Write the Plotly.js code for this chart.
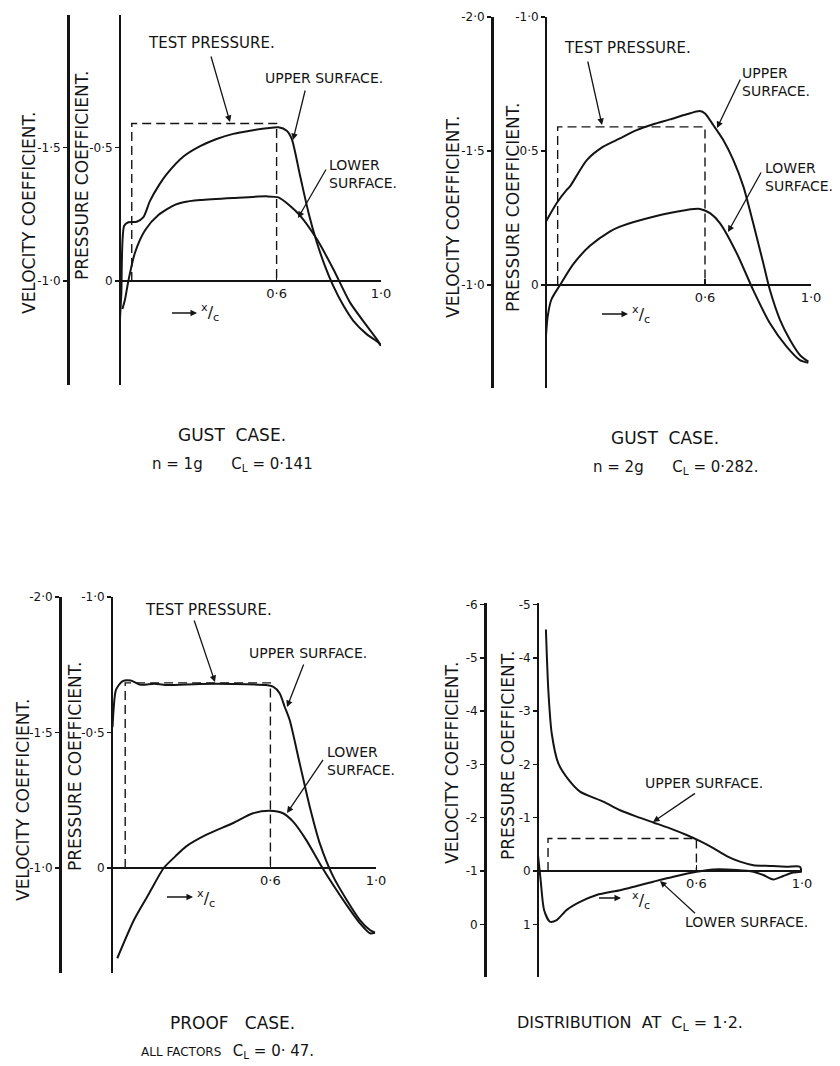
<!DOCTYPE html>
<html><head><meta charset="utf-8">
<script src="https://cdn.plot.ly/plotly-3.0.1.min.js"></script>
<style>html,body{margin:0;padding:0;background:#fff}</style>
</head><body><div id="chart" style="width:840px;height:1066px"></div>
<script>
// ---------------- DATA ----------------
// Panel 1: gust case n=1g, CL=0.141
const gust1UpperX  = [0.0, 0.005, 0.016, 0.032, 0.064, 0.089, 0.115, 0.15, 0.179, 0.243, 0.307, 0.37, 0.434, 0.498, 0.562, 0.607, 0.639, 0.658, 0.69, 0.722, 0.754, 0.785, 0.817, 0.856, 0.894, 0.945, 0.99, 1.0];
const gust1UpperCp = [0.14, 0.05, -0.207, -0.22, -0.222, -0.238, -0.3, -0.36, -0.4, -0.466, -0.505, -0.532, -0.551, -0.563, -0.572, -0.576, -0.563, -0.532, -0.394, -0.257, -0.145, -0.057, 0.018, 0.092, 0.149, 0.199, 0.23, 0.242];
const gust1LowerX  = [0.009, 0.019, 0.032, 0.057, 0.096, 0.147, 0.21, 0.243, 0.307, 0.434, 0.562, 0.607, 0.651, 0.69, 0.754, 0.817, 0.881, 0.945, 0.983, 1.0];
const gust1LowerCp = [0.105, 0.07, 0.0, -0.105, -0.19, -0.247, -0.285, -0.295, -0.303, -0.311, -0.317, -0.313, -0.282, -0.245, -0.157, -0.045, 0.08, 0.167, 0.217, 0.242];
const gust1TestX   = [0.045, 0.045, 0.6, 0.6];
const gust1TestCp  = [0, -0.59, -0.59, 0];

// Panel 2: gust case n=2g, CL=0.282
const gust2UpperX  = [0.0, 0.04, 0.078, 0.09, 0.154, 0.216, 0.279, 0.342, 0.405, 0.468, 0.531, 0.581, 0.6, 0.631, 0.669, 0.707, 0.745, 0.782, 0.82, 0.845, 0.883, 0.921, 0.958, 0.99];
const gust2UpperCp = [-0.237, -0.305, -0.355, -0.367, -0.466, -0.516, -0.547, -0.578, -0.6, -0.618, -0.637, -0.649, -0.64, -0.597, -0.541, -0.466, -0.367, -0.23, -0.081, 0.019, 0.13, 0.205, 0.261, 0.286];
const gust2LowerX  = [0.0, 0.006, 0.02, 0.053, 0.103, 0.166, 0.242, 0.279, 0.405, 0.531, 0.581, 0.619, 0.657, 0.72, 0.782, 0.845, 0.908, 0.958, 0.99];
const gust2LowerCp = [0.19, 0.12, 0.055, 0.0, -0.078, -0.146, -0.2, -0.218, -0.255, -0.28, -0.284, -0.268, -0.23, -0.118, 0.019, 0.143, 0.23, 0.28, 0.29];
const gust2TestX   = [0.044, 0.044, 0.6, 0.6];
const gust2TestCp  = [0, -0.59, -0.59, 0];

// Panel 3: proof case, all factors, CL=0.47
const proofUpperX  = [0.002, 0.006, 0.015, 0.039, 0.071, 0.109, 0.16, 0.204, 0.331, 0.457, 0.584, 0.61, 0.635, 0.654, 0.673, 0.711, 0.749, 0.787, 0.838, 0.889, 0.939, 0.977, 0.996];
const proofUpperCp = [-0.52, -0.584, -0.657, -0.689, -0.692, -0.676, -0.68, -0.675, -0.679, -0.679, -0.675, -0.669, -0.645, -0.595, -0.546, -0.386, -0.226, -0.091, 0.032, 0.118, 0.192, 0.229, 0.239];
const proofLowerX  = [0.02, 0.084, 0.141, 0.196, 0.24, 0.28, 0.356, 0.457, 0.534, 0.597, 0.648, 0.686, 0.736, 0.787, 0.838, 0.889, 0.939, 0.977, 0.996];
const proofLowerCp = [0.333, 0.19, 0.093, 0.0, -0.043, -0.079, -0.122, -0.165, -0.202, -0.211, -0.202, -0.171, -0.103, -0.017, 0.063, 0.137, 0.204, 0.241, 0.239];
const proofTestX   = [0.05, 0.05, 0.6, 0.6];
const proofTestCp  = [0, -0.683, -0.683, 0];

// Panel 4: distribution at CL=1.2
const highUpperX  = [0.03, 0.039, 0.052, 0.077, 0.121, 0.159, 0.247, 0.311, 0.374, 0.437, 0.5, 0.563, 0.614, 0.664, 0.715, 0.765, 0.816, 0.879, 0.942, 0.992, 0.998];
const highUpperCp = [-4.53, -3.4, -2.58, -2.02, -1.68, -1.49, -1.3, -1.14, -1.02, -0.91, -0.8, -0.675, -0.56, -0.43, -0.28, -0.175, -0.11, -0.094, -0.08, -0.08, 0.01];
const highLowerX  = [0.0, 0.01, 0.023, 0.045, 0.071, 0.109, 0.159, 0.222, 0.311, 0.374, 0.437, 0.513, 0.601, 0.664, 0.753, 0.816, 0.853, 0.891, 0.929, 0.967, 0.999];
const highLowerCp = [-0.3, 0.17, 0.73, 0.95, 0.92, 0.73, 0.58, 0.45, 0.36, 0.28, 0.2, 0.107, 0.013, -0.03, -0.02, 0.013, 0.075, 0.16, 0.094, 0.03, 0.013];
const highTestX   = [0.038, 0.038, 0.6, 0.6];
const highTestCp  = [0, -0.61, -0.61, 0];

// Tick labels
const xTickVals = [0.6, 1.0];
const xTickText = ['0·6', '1·0'];
const p1PressVals = [-1, -0.5, 0];   const p1PressText = ['-1·0', '-0·5', '0'];
const p1VelVals   = [-1.5, -1.0];    const p1VelText   = ['-1·5', '-1·0'];
const p2PressVals = [-1, -0.5, 0];   const p2PressText = ['-1·0', '0·5', '0'];
const p2VelVals   = [-2, -1.5, -1];  const p2VelText   = ['-2·0', '-1·5', '-1·0'];
const p3PressVals = [-1, -0.5, 0];   const p3PressText = ['-1·0', '-0·5', '0'];
const p3VelVals   = [-2, -1.5, -1];  const p3VelText   = ['-2·0', '-1·5', '-1·0'];
const p4PressVals = [-5, -4, -3, -2, -1, 0, 1];  const p4PressText = ['-5', '-4', '-3', '-2', '-1', '0', '1'];
const p4VelVals   = [-6, -5, -4, -3, -2, -1, 0]; const p4VelText   = ['-6', '-5', '-4', '-3', '-2', '-1', '0'];

// ---------------- LAYOUT GEOMETRY ----------------
const W = 840, H = 1066;
const INK = '#141414';
const FONT = 'DejaVu Sans, Liberation Sans, sans-serif';
const geom = [
  {x0:120, x1:381, y0:281, s:267,  top:15,  bottom:385, vx:68},
  {x0:546, x1:811, y0:285, s:268,  top:17,  bottom:388, vx:492},
  {x0:112, x1:376, y0:868, s:271,  top:597, bottom:973, vx:60},
  {x0:538, x1:802, y0:871, s:53.3, top:603, bottom:977, vx:485}
];
const series = [
  {ux:gust1UpperX, uy:gust1UpperCp, lx:gust1LowerX, ly:gust1LowerCp, tx:gust1TestX, ty:gust1TestCp, pv:p1PressVals, pt:p1PressText, vv:p1VelVals, vt:p1VelText},
  {ux:gust2UpperX, uy:gust2UpperCp, lx:gust2LowerX, ly:gust2LowerCp, tx:gust2TestX, ty:gust2TestCp, pv:p2PressVals, pt:p2PressText, vv:p2VelVals, vt:p2VelText},
  {ux:proofUpperX, uy:proofUpperCp, lx:proofLowerX, ly:proofLowerCp, tx:proofTestX, ty:proofTestCp, pv:p3PressVals, pt:p3PressText, vv:p3VelVals, vt:p3VelText},
  {ux:highUpperX,  uy:highUpperCp,  lx:highLowerX,  ly:highLowerCp,  tx:highTestX,  ty:highTestCp,  pv:p4PressVals, pt:p4PressText, vv:p4VelVals, vt:p4VelText}
];

const traces = [];
const layout = {
  width: W, height: H, margin:{l:0, r:0, t:0, b:0},
  paper_bgcolor:'#fff', plot_bgcolor:'rgba(0,0,0,0)',
  showlegend:false, font:{family:FONT, color:INK, size:13},
  annotations: []
};

const X0 = -0.02;
const tickFont = {size:12, family:FONT, color:INK};
geom.forEach((g, i) => {
  const xid = i === 0 ? 'x' : 'x' + (i + 1);
  const pid = 'y' + (i === 0 ? '' : (2 * i + 1));
  const vid = 'y' + (2 * i + 2);
  const xkey = i === 0 ? 'xaxis' : 'xaxis' + (i + 1);
  const pkey = 'yaxis' + (i === 0 ? '' : (2 * i + 1));
  const vkey = 'yaxis' + (2 * i + 2);
  const pxPerUnit = g.x1 - g.x0;
  const xd = [(g.x0 + X0 * pxPerUnit) / W, g.x1 / W];
  const yd = [1 - g.bottom / H, 1 - g.top / H];
  const pr = [(g.bottom - g.y0) / g.s, (g.top - g.y0) / g.s];
  const d = series[i];

  layout[xkey] = {
    domain: xd, range:[X0, 1.0], anchor:'free', position: 1 - g.y0 / H,
    showline:true, linewidth:2, linecolor:INK, showgrid:false, zeroline:false,
    ticks:'inside', ticklen:5, tickwidth:1.5, tickcolor:INK,
    tickvals:xTickVals, ticktext:xTickText, tickfont:{size:13, family:FONT, color:INK},
    fixedrange:true
  };
  layout[pkey] = {
    domain: yd, range: pr, anchor:'free', position: g.x0 / W, side:'left',
    showline:true, linewidth:2, linecolor:INK, showgrid:false, zeroline:false,
    ticks:'outside', ticklen:4, tickwidth:1.5, tickcolor:INK,
    tickvals:d.pv, ticktext:d.pt, tickfont:tickFont,
    fixedrange:true
  };
  layout[vkey] = {
    overlaying: pid, range:[pr[0] - 1, pr[1] - 1], anchor:'free', position: g.vx / W, side:'left',
    showline:true, linewidth:2.5, linecolor:INK, showgrid:false, zeroline:false,
    ticks:'outside', ticklen:4, tickwidth:1.5, tickcolor:INK,
    tickvals:d.vv, ticktext:d.vt, tickfont:tickFont,
    fixedrange:true
  };

  const base = {xaxis:xid, yaxis:pid, mode:'lines', hoverinfo:'skip', cliponaxis:false};
  traces.push(Object.assign({}, base, {x:d.tx, y:d.ty, line:{color:INK, width:1.4, dash:'9px,5px'}}));
  traces.push(Object.assign({}, base, {x:d.ux, y:d.uy, line:{color:INK, width:2, shape:'spline', smoothing:0.7}}));
  traces.push(Object.assign({}, base, {x:d.lx, y:d.ly, line:{color:INK, width:2, shape:'spline', smoothing:0.7}}));
  // anchor trace so the velocity axis subplot is created
  traces.push({xaxis:xid, yaxis:vid, x:[null], y:[null], mode:'lines', hoverinfo:'skip'});
});

// ---------------- ANNOTATIONS ----------------
const A = layout.annotations;
function label(text, x, y, size, anchor, extra) {
  A.push(Object.assign({xref:'paper', yref:'paper', x:x / W, y:1 - y / H, text:text, showarrow:false,
    xanchor:anchor || 'left', yanchor:'middle', align:'left',
    font:{family:FONT, size:size || 14, color:INK}}, extra || {}));
}
function arrow(tx, ty, hx, hy) {
  A.push({xref:'paper', yref:'paper', x:hx / W, y:1 - hy / H, ax:tx - hx, ay:ty - hy,
    text:'\u00a0', font:{size:3, family:FONT, color:INK},
    showarrow:true, arrowhead:2, arrowsize:1, arrowwidth:1.3, arrowcolor:INK, standoff:0, startstandoff:0});
}
function vtitle(text, x, y) {
  label(text, x, y, 17, 'center', {textangle:-90});
}
const XC = '<sup>x</sup>/<sub>c</sub>';

// Panel 1
label('TEST PRESSURE.', 146, 43, 15);
label('UPPER SURFACE.', 263, 78);
label('LOWER<br>SURFACE.', 327, 174);
arrow(210, 53, 230, 122);
arrow(306, 87, 293, 140);
arrow(328, 166, 298, 218);
arrow(170, 313, 197, 313);
label(XC, 199, 313, 16);
vtitle('VELOCITY COEFFICIENT.', 29, 213);
vtitle('PRESSURE COEFFICIENT.', 82, 176);
label('GUST\u00a0\u00a0CASE.', 232, 435, 17, 'center');
label('n\u00a0=\u00a01g\u00a0\u00a0\u00a0\u00a0\u00a0\u00a0C<sub>L</sub>\u00a0=\u00a00·141', 232, 464, 15, 'center');

// Panel 2
label('TEST PRESSURE.', 562, 48, 15);
label('UPPER<br>SURFACE.', 740, 82);
label('LOWER<br>SURFACE.', 763, 177);
arrow(587, 58, 602, 125);
arrow(742, 76, 717, 128);
arrow(763, 169, 728, 232);
arrow(600, 314, 628, 314);
label(XC, 630, 314, 16);
vtitle('VELOCITY COEFFICIENT.', 453, 217);
vtitle('PRESSURE COEFFICIENT.', 513, 208);
label('GUST\u00a0\u00a0CASE.', 665, 438, 17, 'center');
label('n\u00a0=\u00a02g\u00a0\u00a0\u00a0\u00a0\u00a0\u00a0C<sub>L</sub>\u00a0=\u00a00·282.', 675, 467, 15, 'center');

// Panel 3
label('TEST PRESSURE.', 143, 610, 15);
label('UPPER SURFACE.', 247, 653);
label('LOWER<br>SURFACE.', 325, 761);
arrow(193, 617, 215, 682);
arrow(305, 661, 287, 707);
arrow(325, 757, 287, 813);
arrow(165, 897, 193, 897);
label(XC, 195, 898, 16);
vtitle('VELOCITY COEFFICIENT.', 23, 800);
vtitle('PRESSURE COEFFICIENT.', 75, 767);
label('PROOF\u00a0\u00a0\u00a0CASE.', 232, 1023, 17, 'center');
label('ALL FACTORS\u00a0\u00a0\u00a0<span style="font-size:15px">C<sub>L</sub>\u00a0=\u00a00·\u00a047.</span>', 228, 1051, 12, 'center');

// Panel 4
label('UPPER SURFACE.', 643, 783);
label('LOWER SURFACE.', 683, 922);
arrow(697, 792, 653, 822);
arrow(697, 915, 660, 881);
arrow(597, 898, 621, 898);
label(XC, 630, 900, 16);
vtitle('VELOCITY COEFFICIENT.', 452, 763);
vtitle('PRESSURE COEFFICIENT.', 508, 755);
label('DISTRIBUTION\u00a0\u00a0AT\u00a0\u00a0C<sub>L</sub>\u00a0=\u00a01·2.', 630, 1023, 16, 'center');

Plotly.newPlot('chart', traces, layout, {staticPlot:true, displayModeBar:false});
</script>
</body></html>
